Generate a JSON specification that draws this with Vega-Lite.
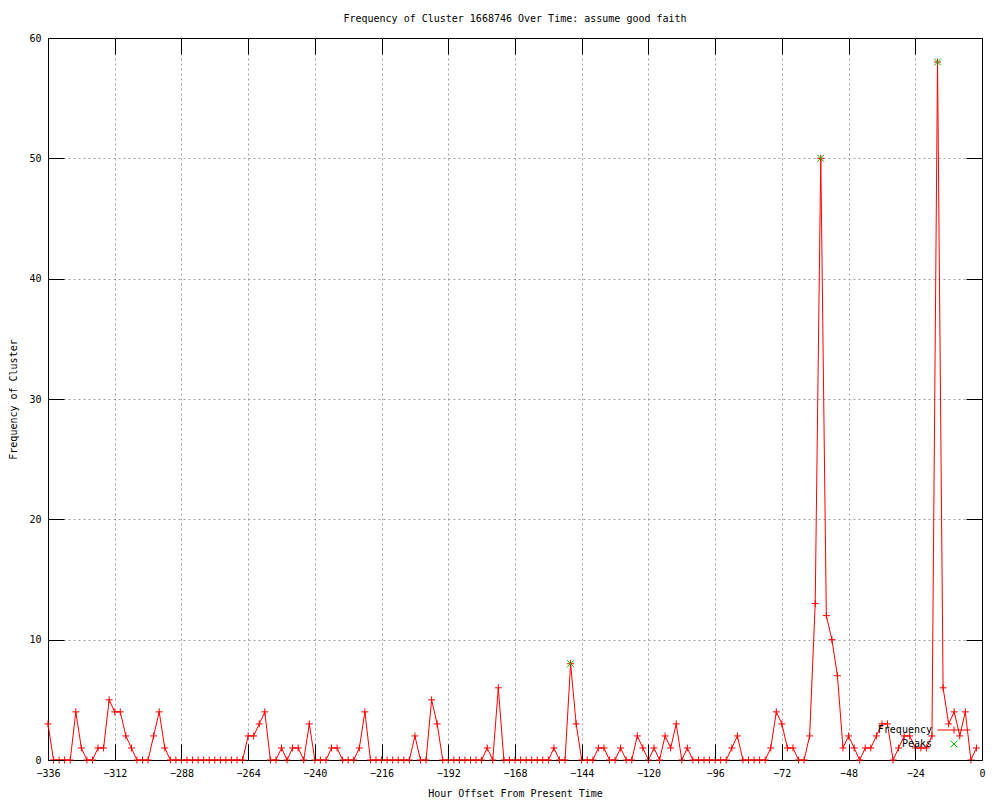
{
  "$schema": "https://vega.github.io/schema/vega-lite/v6.json",
  "width": 934,
  "height": 722,
  "autosize": {"type": "none"},
  "padding": {"left": 48, "top": 38, "right": 18, "bottom": 40},
  "background": "white",
  "title": {"text": "Frequency of Cluster 1668746 Over Time: assume good faith", "anchor": "middle", "frame": "group", "offset": 9, "font": "DejaVu Sans Mono", "fontSize": 10, "fontWeight": "normal", "color": "black"},
  "config": {
    "view": {"stroke": "black", "strokeWidth": 1},
    "font": "DejaVu Sans Mono",
    "axis": {
      "domain": false,
      "tickColor": "black",
      "tickWidth": 1,
      "labelFont": "DejaVu Sans Mono",
      "labelFontSize": 10,
      "labelColor": "black",
      "titleFont": "DejaVu Sans Mono",
      "titleFontSize": 10,
      "titleFontWeight": "normal",
      "titleColor": "black",
      "gridColor": "#a0a0a0",
      "gridDash": [2, 3],
      "gridWidth": 1,
      "labelBound": false,
      "labelFlush": false,
      "labelOverlap": false
    },
    "legend": {
      "orient": "none",
      "title": null,
      "padding": 0,
      "symbolSize": 49,
      "symbolStrokeWidth": 1,
      "labelAlign": "right",
      "labelOffset": -27,
      "labelFont": "DejaVu Sans Mono",
      "labelFontSize": 10,
      "labelColor": "black"
    }
  },
  "datasets": {
    "freq": [
      {"hour": -336, "freq": 3}, {"hour": -334, "freq": 0}, {"hour": -332, "freq": 0}, {"hour": -330, "freq": 0},
      {"hour": -328, "freq": 0}, {"hour": -326, "freq": 4}, {"hour": -324, "freq": 1}, {"hour": -322, "freq": 0},
      {"hour": -320, "freq": 0}, {"hour": -318, "freq": 1}, {"hour": -316, "freq": 1}, {"hour": -314, "freq": 5},
      {"hour": -312, "freq": 4}, {"hour": -310, "freq": 4}, {"hour": -308, "freq": 2}, {"hour": -306, "freq": 1},
      {"hour": -304, "freq": 0}, {"hour": -302, "freq": 0}, {"hour": -300, "freq": 0}, {"hour": -298, "freq": 2},
      {"hour": -296, "freq": 4}, {"hour": -294, "freq": 1}, {"hour": -292, "freq": 0}, {"hour": -290, "freq": 0},
      {"hour": -288, "freq": 0}, {"hour": -286, "freq": 0}, {"hour": -284, "freq": 0}, {"hour": -282, "freq": 0},
      {"hour": -280, "freq": 0}, {"hour": -278, "freq": 0}, {"hour": -276, "freq": 0}, {"hour": -274, "freq": 0},
      {"hour": -272, "freq": 0}, {"hour": -270, "freq": 0}, {"hour": -268, "freq": 0}, {"hour": -266, "freq": 0},
      {"hour": -264, "freq": 2}, {"hour": -262, "freq": 2}, {"hour": -260, "freq": 3}, {"hour": -258, "freq": 4},
      {"hour": -256, "freq": 0}, {"hour": -254, "freq": 0}, {"hour": -252, "freq": 1}, {"hour": -250, "freq": 0},
      {"hour": -248, "freq": 1}, {"hour": -246, "freq": 1}, {"hour": -244, "freq": 0}, {"hour": -242, "freq": 3},
      {"hour": -240, "freq": 0}, {"hour": -238, "freq": 0}, {"hour": -236, "freq": 0}, {"hour": -234, "freq": 1},
      {"hour": -232, "freq": 1}, {"hour": -230, "freq": 0}, {"hour": -228, "freq": 0}, {"hour": -226, "freq": 0},
      {"hour": -224, "freq": 1}, {"hour": -222, "freq": 4}, {"hour": -220, "freq": 0}, {"hour": -218, "freq": 0},
      {"hour": -216, "freq": 0}, {"hour": -214, "freq": 0}, {"hour": -212, "freq": 0}, {"hour": -210, "freq": 0},
      {"hour": -208, "freq": 0}, {"hour": -206, "freq": 0}, {"hour": -204, "freq": 2}, {"hour": -202, "freq": 0},
      {"hour": -200, "freq": 0}, {"hour": -198, "freq": 5}, {"hour": -196, "freq": 3}, {"hour": -194, "freq": 0},
      {"hour": -192, "freq": 0}, {"hour": -190, "freq": 0}, {"hour": -188, "freq": 0}, {"hour": -186, "freq": 0},
      {"hour": -184, "freq": 0}, {"hour": -182, "freq": 0}, {"hour": -180, "freq": 0}, {"hour": -178, "freq": 1},
      {"hour": -176, "freq": 0}, {"hour": -174, "freq": 6}, {"hour": -172, "freq": 0}, {"hour": -170, "freq": 0},
      {"hour": -168, "freq": 0}, {"hour": -166, "freq": 0}, {"hour": -164, "freq": 0}, {"hour": -162, "freq": 0},
      {"hour": -160, "freq": 0}, {"hour": -158, "freq": 0}, {"hour": -156, "freq": 0}, {"hour": -154, "freq": 1},
      {"hour": -152, "freq": 0}, {"hour": -150, "freq": 0}, {"hour": -148, "freq": 8}, {"hour": -146, "freq": 3},
      {"hour": -144, "freq": 0}, {"hour": -142, "freq": 0}, {"hour": -140, "freq": 0}, {"hour": -138, "freq": 1},
      {"hour": -136, "freq": 1}, {"hour": -134, "freq": 0}, {"hour": -132, "freq": 0}, {"hour": -130, "freq": 1},
      {"hour": -128, "freq": 0}, {"hour": -126, "freq": 0}, {"hour": -124, "freq": 2}, {"hour": -122, "freq": 1},
      {"hour": -120, "freq": 0}, {"hour": -118, "freq": 1}, {"hour": -116, "freq": 0}, {"hour": -114, "freq": 2},
      {"hour": -112, "freq": 1}, {"hour": -110, "freq": 3}, {"hour": -108, "freq": 0}, {"hour": -106, "freq": 1},
      {"hour": -104, "freq": 0}, {"hour": -102, "freq": 0}, {"hour": -100, "freq": 0}, {"hour": -98, "freq": 0},
      {"hour": -96, "freq": 0}, {"hour": -94, "freq": 0}, {"hour": -92, "freq": 0}, {"hour": -90, "freq": 1},
      {"hour": -88, "freq": 2}, {"hour": -86, "freq": 0}, {"hour": -84, "freq": 0}, {"hour": -82, "freq": 0},
      {"hour": -80, "freq": 0}, {"hour": -78, "freq": 0}, {"hour": -76, "freq": 1}, {"hour": -74, "freq": 4},
      {"hour": -72, "freq": 3}, {"hour": -70, "freq": 1}, {"hour": -68, "freq": 1}, {"hour": -66, "freq": 0},
      {"hour": -64, "freq": 0}, {"hour": -62, "freq": 2}, {"hour": -60, "freq": 13}, {"hour": -58, "freq": 50},
      {"hour": -56, "freq": 12}, {"hour": -54, "freq": 10}, {"hour": -52, "freq": 7}, {"hour": -50, "freq": 1},
      {"hour": -48, "freq": 2}, {"hour": -46, "freq": 1}, {"hour": -44, "freq": 0}, {"hour": -42, "freq": 1},
      {"hour": -40, "freq": 1}, {"hour": -38, "freq": 2}, {"hour": -36, "freq": 3}, {"hour": -34, "freq": 3},
      {"hour": -32, "freq": 0}, {"hour": -30, "freq": 1}, {"hour": -28, "freq": 2}, {"hour": -26, "freq": 2},
      {"hour": -24, "freq": 1}, {"hour": -22, "freq": 1}, {"hour": -20, "freq": 1}, {"hour": -18, "freq": 2},
      {"hour": -16, "freq": 58}, {"hour": -14, "freq": 6}, {"hour": -12, "freq": 3}, {"hour": -10, "freq": 4},
      {"hour": -8, "freq": 2}, {"hour": -6, "freq": 4}, {"hour": -4, "freq": 0}, {"hour": -2, "freq": 1}
    ],
    "peaks": [
      {"hour": -148, "freq": 8},
      {"hour": -58, "freq": 50},
      {"hour": -16, "freq": 58}
    ]
  },
  "layer": [
    {
      "data": {"name": "freq"},
      "mark": {"type": "line", "strokeWidth": 1},
      "encoding": {
        "x": {
          "field": "hour", "type": "quantitative",
          "scale": {"domain": [-336, 0], "nice": false, "zero": false},
          "axis": {
            "orient": "bottom",
            "values": [-336, -312, -288, -264, -240, -216, -192, -168, -144, -120, -96, -72, -48, -24, 0],
            "title": "Hour Offset From Present Time",
            "grid": true,
            "gridOpacity": {"condition": {"test": "datum.value === -336 || datum.value === 0", "value": 0}, "value": 1},
            "ticks": false,
            "labelPadding": 8,
            "titleY": 33,
            "titleBaseline": "middle"
          }
        },
        "y": {
          "field": "freq", "type": "quantitative",
          "scale": {"domain": [0, 60], "nice": false},
          "axis": {
            "orient": "left",
            "values": [0, 10, 20, 30, 40, 50, 60],
            "title": "Frequency of Cluster",
            "grid": true,
            "gridOpacity": {"condition": {"test": "datum.value === 0 || datum.value === 60", "value": 0}, "value": 1},
            "ticks": false,
            "labelPadding": 7,
            "titleX": -35,
            "titleY": 361,
            "titleAngle": -90,
            "titleAlign": "center",
            "titleBaseline": "middle"
          }
        },
        "color": {
          "datum": "Frequency", "type": "nominal",
          "scale": {"domain": ["Frequency"], "range": ["#ff0000"]},
          "legend": {
            "legendX": 901,
            "legendY": 687,
            "symbolType": "M-4.7,0L4.7,0M0,-1L0,1"
          }
        }
      }
    },
    {
      "data": {"name": "freq"},
      "mark": {"type": "point", "shape": "M-1,0L1,0M0,-1L0,1", "filled": false, "size": 49, "strokeWidth": 1, "opacity": 1, "color": "#ff0000"},
      "encoding": {
        "x": {
          "field": "hour", "type": "quantitative",
          "axis": {"orient": "top", "labels": false, "title": null, "grid": false, "ticks": true, "tickSize": 16, "offset": -16, "zindex": 1,
                   "values": [-336, -312, -288, -264, -240, -216, -192, -168, -144, -120, -96, -72, -48, -24, 0]}
        },
        "y": {
          "field": "freq", "type": "quantitative",
          "axis": {"orient": "right", "labels": false, "title": null, "grid": false, "ticks": true, "tickSize": 16, "offset": -16, "zindex": 1,
                   "values": [0, 10, 20, 30, 40, 50, 60]}
        }
      }
    },
    {
      "data": {"name": "peaks"},
      "mark": {"type": "point", "shape": "M-1,-1L1,1M1,-1L-1,1", "filled": false, "size": 49, "strokeWidth": 1, "opacity": 1},
      "encoding": {
        "x": {
          "field": "hour", "type": "quantitative",
          "axis": {"orient": "bottom", "labels": false, "title": null, "grid": false, "ticks": true, "tickSize": 16, "offset": -16, "zindex": 1,
                   "values": [-336, -312, -288, -264, -240, -216, -192, -168, -144, -120, -96, -72, -48, -24, 0]}
        },
        "y": {
          "field": "freq", "type": "quantitative",
          "axis": {"orient": "left", "labels": false, "title": null, "grid": false, "ticks": true, "tickSize": 16, "offset": -16, "zindex": 1,
                   "values": [0, 10, 20, 30, 40, 50, 60]}
        },
        "stroke": {
          "datum": "Peaks", "type": "nominal",
          "scale": {"domain": ["Peaks"], "range": ["#00c000"]},
          "legend": {
            "legendX": 901,
            "legendY": 701
          }
        }
      }
    }
  ],
  "resolve": {"axis": {"x": "independent", "y": "independent"}}
}
